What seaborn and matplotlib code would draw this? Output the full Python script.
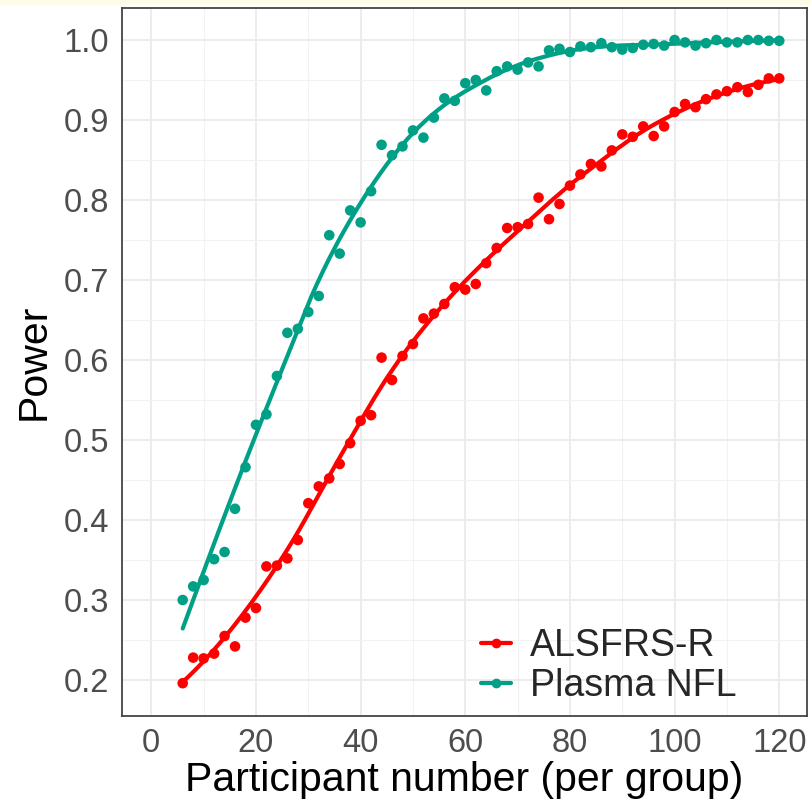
import numpy as np
import pandas as pd
import matplotlib
matplotlib.use("Agg")
import matplotlib.pyplot as plt
from matplotlib.lines import Line2D
from matplotlib.patches import Rectangle
from matplotlib.ticker import MultipleLocator
import seaborn as sns

# ---------------- data ----------------
participants = list(range(6, 121, 2))

power_alsfrs = [0.196, 0.228, 0.227, 0.233, 0.255, 0.242, 0.278, 0.290, 0.342, 0.343,
                0.352, 0.375, 0.421, 0.442, 0.452, 0.470, 0.496, 0.524, 0.531, 0.603,
                0.575, 0.605, 0.620, 0.652, 0.658, 0.670, 0.691, 0.688, 0.695, 0.721,
                0.740, 0.765, 0.766, 0.770, 0.803, 0.776, 0.795, 0.818, 0.832, 0.845,
                0.842, 0.862, 0.882, 0.879, 0.892, 0.880, 0.892, 0.910, 0.920, 0.916,
                0.926, 0.932, 0.936, 0.941, 0.935, 0.944, 0.952, 0.952]

power_nfl = [0.300, 0.317, 0.325, 0.351, 0.360, 0.414, 0.466, 0.519, 0.532, 0.580,
             0.634, 0.639, 0.660, 0.680, 0.756, 0.733, 0.787, 0.772, 0.811, 0.869,
             0.856, 0.867, 0.887, 0.878, 0.903, 0.927, 0.924, 0.946, 0.950, 0.937,
             0.961, 0.967, 0.963, 0.972, 0.967, 0.987, 0.989, 0.985, 0.992, 0.991,
             0.996, 0.991, 0.988, 0.990, 0.994, 0.995, 0.993, 1.000, 0.997, 0.993,
             0.996, 1.000, 0.997, 0.997, 1.000, 1.000, 0.999, 0.999]

series_names = ["ALSFRS-R", "Plasma NFL"]
series_colors = ["#FF0000", "#00A087"]
x_ticks = [0, 20, 40, 60, 80, 100, 120]
y_ticks = [0.2, 0.3, 0.4, 0.5, 0.6, 0.7, 0.8, 0.9, 1.0]


def loess(x, y, xs, span=0.45, degree=2):
    """Local quadratic regression with tricube weights (like R's loess)."""
    x = np.asarray(x, float)
    y = np.asarray(y, float)
    n = len(x)
    q = int(np.floor(n * span))
    out = []
    for x0 in xs:
        d = np.abs(x - x0)
        h = np.sort(d)[q - 1]
        w = np.clip(1 - (d / h) ** 3, 0, None) ** 3
        X = np.vander(x - x0, degree + 1, increasing=True)
        W = np.sqrt(w)
        beta, *_ = np.linalg.lstsq(X * W[:, None], y * W, rcond=None)
        out.append(beta[0])
    return np.array(out)


df = pd.DataFrame({
    "n": participants * 2,
    "power": power_alsfrs + power_nfl,
    "group": [series_names[0]] * len(participants) + [series_names[1]] * len(participants),
})

xs = np.linspace(min(participants), max(participants), 200)
smooth = pd.DataFrame({
    "n": np.concatenate([xs, xs]),
    "power": np.concatenate([loess(participants, power_alsfrs, xs),
                             loess(participants, power_nfl, xs)]),
    "group": [series_names[0]] * len(xs) + [series_names[1]] * len(xs),
})

# ---------------- plot ----------------
sns.set_theme(style="white")
plt.rcParams["font.family"] = ["Liberation Sans", "DejaVu Sans"]

fig = plt.figure(figsize=(8.12, 8.07), dpi=100)
fig.patch.set_facecolor("white")
ax = fig.add_axes([122 / 812, 1 - 716 / 807, (807 - 122) / 812, (716 - 8) / 807])

palette = dict(zip(series_names, series_colors))
sns.scatterplot(data=df, x="n", y="power", hue="group", palette=palette,
                s=58, linewidth=0, ax=ax, legend=False, zorder=3)
sns.lineplot(data=smooth, x="n", y="power", hue="group", palette=palette,
             linewidth=3.0, ax=ax, legend=False, zorder=4)

ax.set_xlim(-5.6, 125.3)
ax.set_ylim(0.155, 1.04)
ax.set_xticks(x_ticks)
ax.set_yticks(y_ticks)
ax.set_yticklabels([f"{v:.1f}" for v in y_ticks])
ax.xaxis.set_minor_locator(MultipleLocator(10))
ax.yaxis.set_minor_locator(MultipleLocator(0.05))
ax.grid(which="major", color="#EBEBEB", linewidth=1.3)
ax.grid(which="minor", color="#F2F2F2", linewidth=0.8)
ax.set_axisbelow(True)

for sp in ax.spines.values():
    sp.set_color("#444444")
    sp.set_linewidth(1.3)

ax.tick_params(axis="both", which="major", length=5, width=1.3, color="#444444",
               labelsize=23.5, labelcolor="#4D4D4D", pad=4, direction="out")
ax.tick_params(axis="both", which="minor", length=0)

ax.set_xlabel("Participant number (per group)", fontsize=29.5, color="black", labelpad=1)
ax.set_ylabel("Power", fontsize=29.5, color="black", labelpad=8)

handles = [Line2D([0], [0], color=c, lw=3, marker="o", markersize=6) for c in series_colors]
ax.legend(handles, series_names, loc="lower left", frameon=False, fontsize=27,
          handlelength=0.8, handletextpad=0.5, labelspacing=0.1,
          borderpad=0, borderaxespad=0,
          bbox_to_anchor=((481 - 122) / 685, (716 - 704) / 708))

# pale strip at the top edge like in the reference
fig.patches.append(Rectangle((0, 1 - 4 / 807), 1, 4 / 807, transform=fig.transFigure,
                             color="#FFFBE8", zorder=-1))

fig.savefig("out.png", dpi=100, facecolor=fig.get_facecolor())
